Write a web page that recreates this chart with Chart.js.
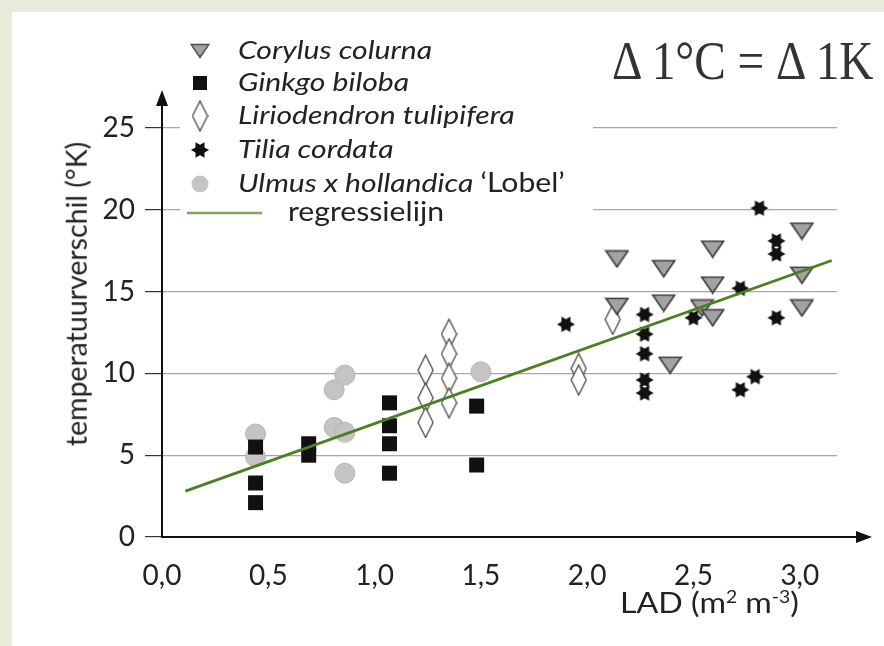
<!DOCTYPE html>
<html>
<head>
<meta charset="utf-8">
<script src="https://cdn.jsdelivr.net/npm/chart.js@4.4.1/dist/chart.umd.min.js"></script>
<style>
  html, body { margin: 0; padding: 0; }
  body { width: 884px; height: 646px; background: #e9ecdb; position: relative; overflow: hidden; }
  #paper { position: absolute; left: 12px; top: 12px; right: 0; bottom: 0; background: #fff; }
  #chart { position: absolute; left: 0; top: 0; }
  .lbl { position: absolute; font-family: Lato, sans-serif; color: #222; white-space: nowrap; line-height: 1; }
  #ytitle { left: 76px; top: 294px; font-size: 28.5px; transform: translate(-50%, -50%) rotate(-90deg); }
  #xtitle { left: 620px; top: 588px; font-size: 28px; transform-origin: left top; transform: scaleX(1.15); }
  #xtitle sup { font-size: 60%; vertical-align: 0.6em; }
  #delta { left: 612px; top: 33px; font-family: "Liberation Serif", serif; font-size: 55px; color: #333;
           transform-origin: left top; transform: scaleX(0.86); }
</style>
</head>
<body>
<div id="paper"></div>
<canvas id="chart" width="884" height="646"></canvas>
<div class="lbl" id="ytitle">temperatuurverschil (°K)</div>
<div class="lbl" id="xtitle">LAD (m<sup>2</sup> m<sup>-3</sup>)</div>
<div class="lbl" id="delta">Δ 1°C = Δ 1K</div>
<script>
// values
const corylusX = [2.14, 2.14, 2.36, 2.36, 2.39, 2.54, 2.59, 2.59, 2.59, 3.01, 3.01, 3.01];
const corylusY = [17.0, 14.1, 16.4, 14.3, 10.5, 14.0, 17.6, 15.4, 13.4, 18.7, 16.0, 14.0];
const ginkgoX = [0.44, 0.44, 0.44, 0.69, 0.69, 1.07, 1.07, 1.07, 1.07, 1.48, 1.48];
const ginkgoY = [5.5, 3.3, 2.1, 5.7, 5.0, 8.2, 6.8, 5.7, 3.9, 8.0, 4.4];
const lirioX = [1.24, 1.24, 1.24, 1.35, 1.35, 1.35, 1.35, 1.96, 1.96, 2.12];
const lirioY = [10.2, 8.5, 7.0, 12.4, 11.2, 9.7, 8.2, 10.3, 9.6, 13.3];
const tiliaX = [1.90, 2.27, 2.27, 2.27, 2.27, 2.27, 2.50, 2.72, 2.72, 2.79, 2.81, 2.89, 2.89, 2.89];
const tiliaY = [13.0, 13.6, 12.4, 11.2, 9.6, 8.8, 13.4, 15.2, 9.0, 9.8, 20.1, 18.1, 17.3, 13.4];
const ulmusX = [0.44, 0.44, 0.81, 0.86, 0.81, 0.86, 0.86, 1.50];
const ulmusY = [6.3, 4.9, 9.0, 9.9, 6.7, 6.4, 3.9, 10.1];
const regX = [0.11, 3.15];
const regY = [2.8, 16.9];
const xTicks = [0, 0.5, 1, 1.5, 2, 2.5, 3];
const yTicks = [0, 5, 10, 15, 20, 25];

const pts = (xs, ys) => xs.map((x, i) => ({ x: x, y: ys[i] }));

// small canvases used as point styles
function makeMarker(w, h, draw) {
	const c = document.createElement("canvas");
	c.width = w;
	c.height = h;
	draw(c.getContext("2d"), w, h);
	return c;
}
const triDown = makeMarker(25, 19, (g, w, h) => {
	g.beginPath();
	g.moveTo(1.5, 1.5);
	g.lineTo(w - 1.5, 1.5);
	g.lineTo(w / 2, h - 1.5);
	g.closePath();
	g.fillStyle = "#a3a3a3";
	g.fill();
	g.lineWidth = 1.6;
	g.strokeStyle = "#3c3c3c";
	g.stroke();
});
const diamond = makeMarker(17, 32, (g, w, h) => {
	g.beginPath();
	g.moveTo(w / 2, 1);
	g.lineTo(w - 1, h / 2);
	g.lineTo(w / 2, h - 1);
	g.lineTo(1, h / 2);
	g.closePath();
	g.fillStyle = "#fff";
	g.fill();
	g.lineWidth = 1.4;
	g.strokeStyle = "#555";
	g.stroke();
});
const star = makeMarker(20, 18, (g, w, h) => {
	const R = 9, cx = w / 2, cy = h / 2;
	g.fillStyle = "#111";
	[0, 60].forEach((a0) => {
		g.beginPath();
		for (let k = 0; k < 3; k++) {
			const a = ((a0 + k * 120) * Math.PI) / 180;
			const px = cx + R * Math.cos(a), py = cy + R * Math.sin(a);
			k ? g.lineTo(px, py) : g.moveTo(px, py);
		}
		g.closePath();
		g.fill();
	});
});

// stretched text, the legend of the original is set wide
function wideText(ctx, str, x, y, sx) {
	ctx.save();
	ctx.translate(x, y);
	ctx.scale(sx, 1);
	ctx.fillText(str, 0, 0);
	const w = ctx.measureText(str).width * sx;
	ctx.restore();
	return w;
}

const decor = {
	id: "decor",
	// white box behind the legend hides the grid lines
	beforeDatasetsDraw(chart) {
		const ctx = chart.ctx;
		ctx.save();
		ctx.fillStyle = "#fff";
		ctx.fillRect(180, 24, 413, 212);
		ctx.restore();
	},
	afterDraw(chart) {
		const ctx = chart.ctx;
		const a = chart.chartArea;
		ctx.save();
		// axis arrows
		ctx.strokeStyle = "#111";
		ctx.fillStyle = "#111";
		ctx.lineWidth = 2;
		ctx.beginPath();
		ctx.moveTo(a.left, a.top);
		ctx.lineTo(a.left, a.top - 30);
		ctx.moveTo(a.right, a.bottom);
		ctx.lineTo(a.right + 26, a.bottom);
		ctx.stroke();
		ctx.beginPath();
		ctx.moveTo(a.left, a.top - 38);
		ctx.lineTo(a.left - 6, a.top - 22);
		ctx.lineTo(a.left + 6, a.top - 22);
		ctx.closePath();
		ctx.fill();
		ctx.beginPath();
		ctx.moveTo(a.right + 35, a.bottom);
		ctx.lineTo(a.right + 19, a.bottom - 6);
		ctx.lineTo(a.right + 19, a.bottom + 6);
		ctx.closePath();
		ctx.fill();

		// legend
		const mx = 200, tx = 238, sx = 1.16;
		const rows = [51, 83, 116, 150, 184];
		const ds = chart.data.datasets;
		const order = [1, 4, 3, 2, 5]; // corylus, ginkgo, lirio, tilia, ulmus
		ctx.textBaseline = "middle";
		order.forEach((di, r) => {
			const d = ds[di];
			const y = rows[r];
			if (d.pointStyle instanceof HTMLCanvasElement) {
				const m = d.pointStyle;
				const s = di === 1 ? 0.8 : 1;
				ctx.drawImage(m, mx - (m.width * s) / 2, y - (m.height * s) / 2, m.width * s, m.height * s);
			} else if (d.pointStyle === "rect") {
				ctx.fillStyle = d.backgroundColor;
				ctx.fillRect(mx - 7, y - 7, 14, 14);
			} else {
				ctx.fillStyle = d.backgroundColor;
				ctx.beginPath();
				ctx.arc(mx, y, 8.5, 0, Math.PI * 2);
				ctx.fill();
			}
			ctx.fillStyle = "#222";
			ctx.font = "italic 26px Lato";
			if (di === 5) {
				const w = wideText(ctx, "Ulmus x hollandica ", tx, y, sx);
				ctx.font = "26px Lato";
				wideText(ctx, "\u2018Lobel\u2019", tx + w, y, sx);
			} else {
				wideText(ctx, d.label, tx, y, sx);
			}
		});
		ctx.strokeStyle = "#80a55c";
		ctx.lineWidth = 2.5;
		ctx.beginPath();
		ctx.moveTo(187, 213);
		ctx.lineTo(262, 213);
		ctx.stroke();
		ctx.fillStyle = "#222";
		ctx.font = "26px Lato";
		wideText(ctx, ds[0].label, 288, 213, sx);
		ctx.restore();
	},
};

function draw() {
	new Chart(document.getElementById("chart"), {
		type: "scatter",
		data: {
			datasets: [
				{
					type: "line",
					label: "regressielijn",
					data: pts(regX, regY),
					borderColor: "#4a8024",
					borderWidth: 2.8,
					pointRadius: 0,
					fill: false,
					order: 0,
				},
				{ label: "Corylus colurna", data: pts(corylusX, corylusY), pointStyle: triDown, order: 1 },
				{ label: "Tilia cordata", data: pts(tiliaX, tiliaY), pointStyle: star, order: 2 },
				{ label: "Liriodendron tulipifera", data: pts(lirioX, lirioY), pointStyle: diamond, order: 3 },
				{
					label: "Ginkgo biloba",
					data: pts(ginkgoX, ginkgoY),
					pointStyle: "rect",
					pointRadius: 10.6,
					backgroundColor: "#111",
					borderWidth: 0,
					order: 4,
				},
				{
					label: "Ulmus x hollandica \u2018Lobel\u2019",
					data: pts(ulmusX, ulmusY),
					pointStyle: "circle",
					pointRadius: 10,
					backgroundColor: "#c4c4c4",
					borderColor: "#b6b6b6",
					borderWidth: 1,
					order: 5,
				},
			],
		},
		options: {
			responsive: false,
			animation: false,
			layout: { padding: { left: 12, top: 128, right: 47, bottom: 0 } },
			plugins: { legend: { display: false }, tooltip: { enabled: false } },
			scales: {
				x: {
					type: "linear",
					min: 0,
					max: 3.175,
					afterFit: (s) => { s.height = 109; },
					afterBuildTicks: (s) => { s.ticks = xTicks.map((v) => ({ value: v })); },
					grid: { display: false, drawTicks: false },
					border: { color: "#111", width: 2 },
					ticks: {
						padding: 22,
						color: "#222",
						font: { family: "Lato", size: 28 },
						callback: (v) => v.toFixed(1).replace(".", ","),
					},
				},
				y: {
					min: 0,
					max: 25,
					afterFit: (s) => { s.width = 150; },
					afterBuildTicks: (s) => { s.ticks = yTicks.map((v) => ({ value: v })); },
					grid: { color: "#a8a8a8", lineWidth: 1.2, tickColor: "#333", tickLength: 17 },
					border: { color: "#111", width: 2 },
					ticks: { padding: 10, color: "#222", font: { family: "Lato", size: 28 } },
				},
			},
		},
		plugins: [decor],
	});
}

document.fonts.load("28px Lato").then(draw, draw);
</script>
</body>
</html>
